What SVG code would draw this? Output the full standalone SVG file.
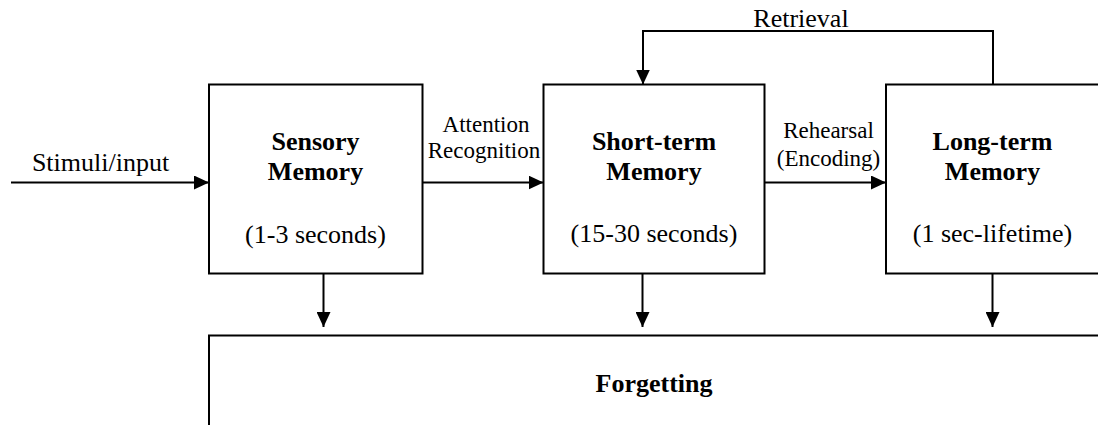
<svg xmlns="http://www.w3.org/2000/svg" width="1098" height="425" viewBox="0 0 1098 425">
  <style>
    .box { fill: #ffffff; stroke: #000000; stroke-width: 2; }
    .wire { fill: none; stroke: #000000; stroke-width: 2; }
    text { font-family: "Liberation Serif", "Times New Roman", serif; fill: #000000; text-anchor: middle; }
    .title { font-size: 26px; font-weight: bold; }
    .span { font-size: 26px; }
    .label { font-size: 26px; }
    .small { font-size: 23px; }
  </style>
  <defs>
    <marker id="arrow" markerUnits="userSpaceOnUse" markerWidth="16" markerHeight="14" refX="15" refY="7" orient="auto">
      <path d="M0,0 L15,7 L0,14 Z" fill="#000000"/>
    </marker>
  </defs>

  <rect width="1098" height="425" fill="#ffffff"/>

  <!-- memory stores -->
  <g id="sensory-memory">
    <rect class="box" x="209" y="84.5" width="213.5" height="189"/>
    <text class="title" x="315.5" y="150">Sensory</text>
    <text class="title" x="315.5" y="180">Memory</text>
    <text class="span" x="315.5" y="243">(1-3 seconds)</text>
  </g>

  <g id="short-term-memory">
    <rect class="box" x="543.5" y="84.5" width="221" height="189"/>
    <text class="title" x="654" y="150">Short-term</text>
    <text class="title" x="654" y="180">Memory</text>
    <text class="span" x="654" y="242">(15-30 seconds)</text>
  </g>

  <g id="long-term-memory">
    <rect class="box" x="886" y="84.5" width="214" height="189"/>
    <text class="title" x="992.5" y="150">Long-term</text>
    <text class="title" x="992.5" y="180">Memory</text>
    <text class="span" x="992.5" y="242">(1 sec-lifetime)</text>
  </g>

  <g id="forgetting">
    <rect class="box" x="209" y="335.5" width="893" height="95"/>
    <text class="title" x="654" y="392">Forgetting</text>
  </g>

  <!-- connectors and their labels -->
  <g id="connectors">
    <line class="wire" x1="11" y1="182.5" x2="209" y2="182.5" marker-end="url(#arrow)"/>
    <line class="wire" x1="422.5" y1="182.5" x2="543.5" y2="182.5" marker-end="url(#arrow)"/>
    <line class="wire" x1="764.5" y1="182.5" x2="886" y2="182.5" marker-end="url(#arrow)"/>
    <polyline class="wire" points="993,84.5 993,31 643,31 643,84.5" marker-end="url(#arrow)"/>
    <line class="wire" x1="323.5" y1="273.5" x2="323.5" y2="327" marker-end="url(#arrow)"/>
    <line class="wire" x1="642.5" y1="273.5" x2="642.5" y2="327" marker-end="url(#arrow)"/>
    <line class="wire" x1="992.5" y1="273.5" x2="992.5" y2="327" marker-end="url(#arrow)"/>

    <text class="label" x="100.5" y="170.5">Stimuli/input</text>
    <text class="small" x="486" y="131.5">Attention</text>
    <text class="small" x="484" y="158">Recognition</text>
    <text class="small" x="828.5" y="138">Rehearsal</text>
    <text class="small" x="828.5" y="166">(Encoding)</text>
    <text class="label" x="801" y="26.5">Retrieval</text>
  </g>
</svg>
